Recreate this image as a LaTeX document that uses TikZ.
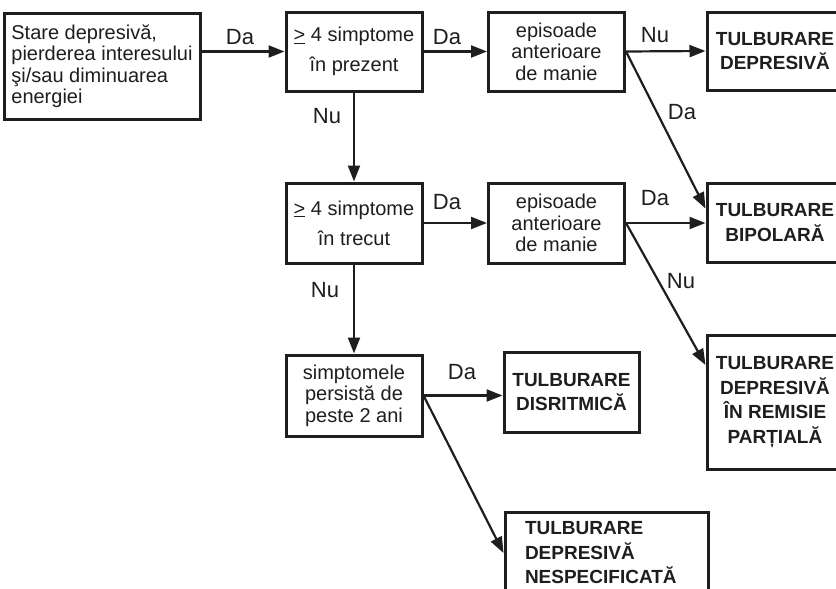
\documentclass[tikz,border=0pt]{standalone}
\usepackage{fontspec}
\setmainfont{Liberation Sans}
\usetikzlibrary{arrows.meta}
\definecolor{ink}{HTML}{1E1E1E}

\begin{document}
\begin{tikzpicture}[x=1pt,y=-1pt,
    box/.style={draw=ink,line width=3pt,minimum width=136pt,minimum height=79pt,inner sep=0pt,align=center,text=ink,font=\fontsize{20}{21.5}\selectfont},
    endbox/.style={box,font=\fontsize{19}{24.5}\selectfont\bfseries},
    arr/.style={draw=ink,line width=2.2pt,-{Triangle[length=16pt,width=12pt]}},
    lbl/.style={text=ink,font=\fontsize{22}{24}\selectfont}]
    \useasboundingbox (0,0) rectangle (836,589);
    \clip (0,0) rectangle (836,589);

    % first row
    \node[box,align=left,minimum width=196pt,minimum height=106pt] (start) at (102,66) {Stare depresivă,\\pierderea interesului\\şi/sau diminuarea\\energiei};
    \node[box,font=\fontsize{20}{30}\selectfont] (prez) at (354,51.5) {\underline{>} 4 simptome\\în prezent};
    \node[box] (manie1) at (556.5,51.5) {episoade\\anterioare\\de manie};
    \node[endbox,minimum height=78pt] (depr) at (775,51) {TULBURARE\\DEPRESIVĂ};

    % second row
    \node[box,font=\fontsize{20}{30}\selectfont,minimum height=80pt] (trec) at (354,223) {\underline{>} 4 simptome\\în trecut};
    \node[box,minimum height=80pt] (manie2) at (556.5,223) {episoade\\anterioare\\de manie};
    \node[endbox] (bipol) at (775,222.5) {TULBURARE\\BIPOLARĂ};

    % third row
    \node[box,minimum height=81pt] (pers) at (354,395.5) {simptomele\\persistă de\\peste 2 ani};
    \node[endbox,minimum width=135pt,minimum height=80pt] (disr) at (571.5,392) {TULBURARE\\DISRITMICĂ};
    \node[endbox,minimum height=134pt] (remis) at (775,402) {TULBURARE\\DEPRESIVĂ\\ÎN REMISIE\\PARȚIALĂ};
    \node[endbox,align=left,minimum width=203pt,minimum height=82pt,text width=163pt] (nesp) at (606.5,553) {TULBURARE\\DEPRESIVĂ\\NESPECIFICATĂ};

    % arrows
    \draw[arr] (start.east |- prez.west) -- (prez.west);
    \draw[arr] (prez.east) -- (manie1.west);
    \draw[arr] (manie1.east) -- (depr.west);
    \draw[arr] (manie1.east) -- ([yshift=14pt]bipol.west);
    \draw[arr] (prez.south) -- (trec.north);
    \draw[arr] (trec.east) -- (manie2.west);
    \draw[arr] (manie2.east) -- (manie2.east -| bipol.west);
    \draw[arr] (manie2.east) -- ([yshift=37pt]remis.west);
    \draw[arr] (trec.south) -- (pers.north);
    \draw[arr] (pers.east) -- (pers.east -| disr.west);
    \draw[arr] (pers.east) -- (nesp.west);

    % labels
    \node[lbl] (da1) at (240,37) {Da};
    \node[lbl] (da2) at (447,37) {Da};
    \node[lbl] (nu1) at (655,35) {Nu};
    \node[lbl] (da3) at (682,112) {Da};
    \node[lbl] (nu2) at (327,116) {Nu};
    \node[lbl] (da4) at (447,202) {Da};
    \node[lbl] (da5) at (655,198) {Da};
    \node[lbl] (nu3) at (681,281) {Nu};
    \node[lbl] (nu4) at (325,290) {Nu};
    \node[lbl] (da6) at (462,372) {Da};
\end{tikzpicture}
\end{document}
